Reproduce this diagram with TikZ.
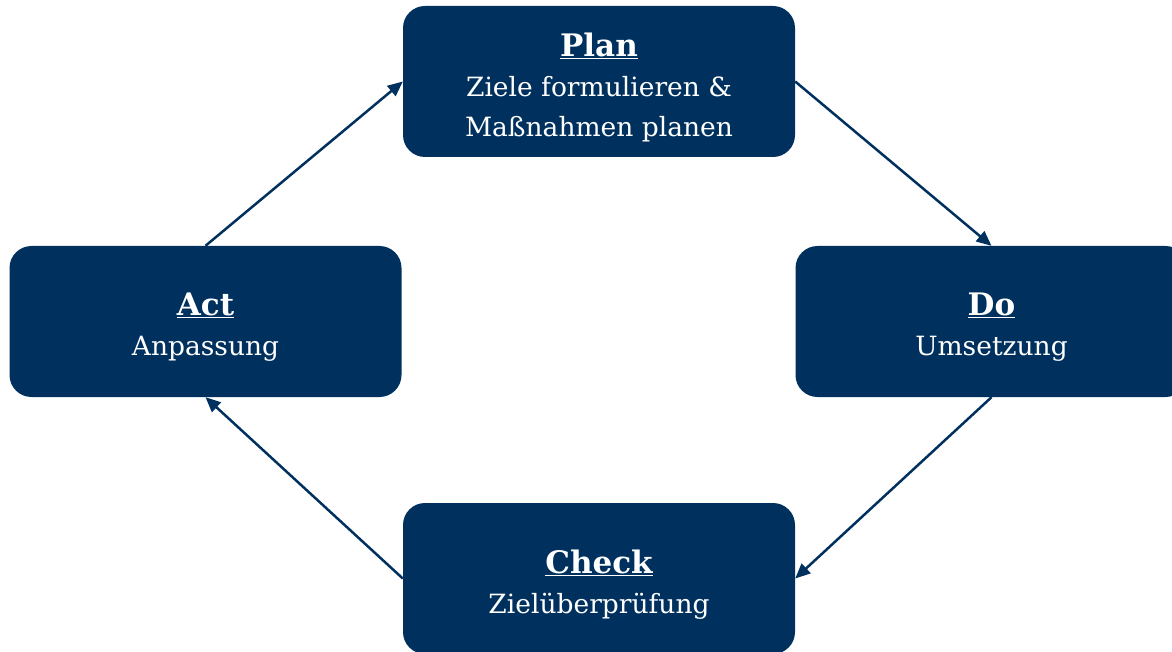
\documentclass[tikz,border=0pt]{standalone}
\usepackage{fontspec}
\setmainfont{DejaVu Serif}
\usetikzlibrary{arrows.meta}
\definecolor{navy}{RGB}{0,49,94}
\tikzset{
  stage/.style={fill=navy, rounded corners=22pt, minimum width=392pt, minimum height=151pt, inner sep=0pt},
  stagetext/.style={text=white, align=center, inner sep=0pt, font=\fontsize{26.5}{40}\selectfont},
  flow/.style={draw=navy, line width=2.5pt, -{Triangle[length=15pt,width=13pt]}}
}
\newcommand{\ttl}[1]{{\fontsize{31}{40}\selectfont\bfseries\underline{#1}}}
\begin{document}
\begin{tikzpicture}[x=1pt,y=-1pt]
\useasboundingbox (0,0) rectangle (1172,652);
\clip (0,0) rectangle (1172,652);
\node[stage] (plan) at (599,81.5) {};
\node[stage] (act) at (205.5,321.5) {};
\node[stage] (do) at (991.5,321.5) {};
\node[stage] (check) at (599,578.5) {};
\node[stagetext] (plantext) at ([yshift=-6pt]plan.center) {\ttl{Plan}\\Ziele formulieren \&\\Maßnahmen planen};
\node[stagetext] (acttext) at ([yshift=-6pt]act.center) {\ttl{Act}\\Anpassung};
\node[stagetext] (dotext) at ([yshift=-6pt]do.center) {\ttl{Do}\\Umsetzung};
\node[stagetext] (checktext) at ([yshift=-6pt]check.center) {\ttl{Check}\\Zielüberprüfung};
\draw[flow] (plan.east) -- (do.north);
\draw[flow] (do.south) -- (check.east);
\draw[flow] (check.west) -- (act.south);
\draw[flow] (act.north) -- (plan.west);
\end{tikzpicture}
\end{document}
